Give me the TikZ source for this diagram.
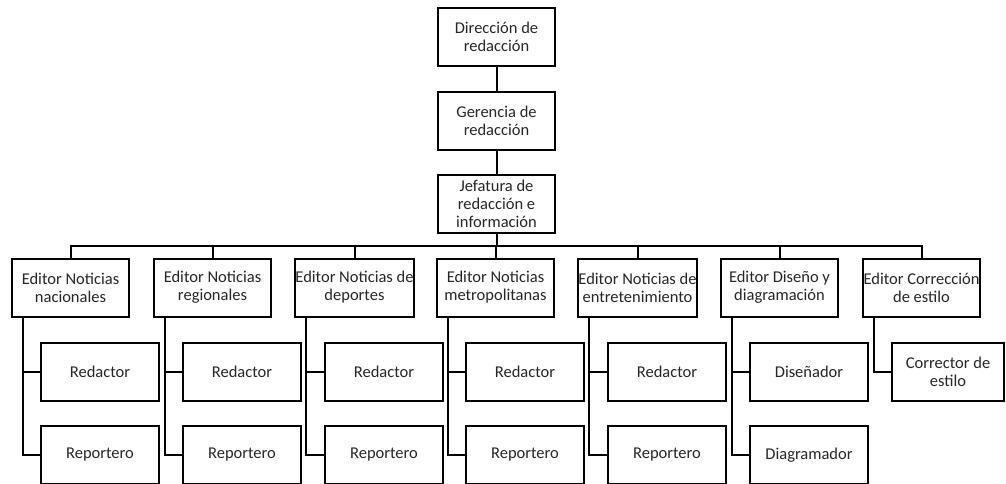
\documentclass[tikz,border=0pt]{standalone}
\usepackage{fontspec}
\setmainfont{Carlito}
\begin{document}
\begin{tikzpicture}[x=1pt,y=-1pt,
  box/.style={draw, line width=2pt, minimum width=117pt, minimum height=58pt,
    inner sep=0pt, align=center, text=black!85,
    font=\fontsize{16.5}{18}\selectfont},
  sub/.style={box, minimum width=118pt},
  link/.style={line width=2pt}]
\useasboundingbox (0,0) rectangle (1006,483);

% upper chain
\node[box] (dir) at (496.5,36.5) {Dirección de\\redacción};
\node[box] (ger) at (496.5,120.5) {Gerencia de\\redacción};
\node[box] (jef) at (496.5,203.5) {Jefatura de\\redacción e\\información};
\draw[link] (dir) -- (ger);
\draw[link] (ger) -- (jef);

% editors
\node[box] (e1) at (70.5,287.5) {Editor Noticias\\nacionales};
\node[box] (e2) at (212.5,287.5) {Editor Noticias\\regionales};
\node[box] (e3) at (354.5,287.5) {Editor Noticias de\\deportes};
\node[box] (e4) at (495.5,287.5) {Editor Noticias\\metropolitanas};
\node[box] (e5) at (637.5,287.5) {Editor Noticias de\\entretenimiento};
\node[box] (e6) at (779.5,287.5) {Editor Diseño y\\diagramación};
\node[box] (e7) at (921.5,287.5) {Editor Corrección\\de estilo};
\foreach \i in {1,...,7}
  \draw[link] (jef.south) -- ++(0,12) -| (e\i.north);

% staff under each editor
\foreach \i/\x in {1/100,2/242,3/384,4/525,5/667} {
  \node[sub] (r\i) at (\x,372) {Redactor};
  \node[sub] (p\i) at (\x,455) {Reportero};
}
\node[sub] (r6) at (809,372) {Diseñador};
\node[sub] (p6) at (809,455) {Diagramador};
\node[sub, minimum width=112pt] (r7) at (948,372) {Corrector de\\estilo};

\foreach \i in {1,...,6} {
  \draw[link] ([xshift=12pt]e\i.south west) |- (r\i.west);
  \draw[link] ([xshift=12pt]e\i.south west) |- (p\i.west);
}
\draw[link] ([xshift=12pt]e7.south west) |- (r7.west);
\end{tikzpicture}
\end{document}
